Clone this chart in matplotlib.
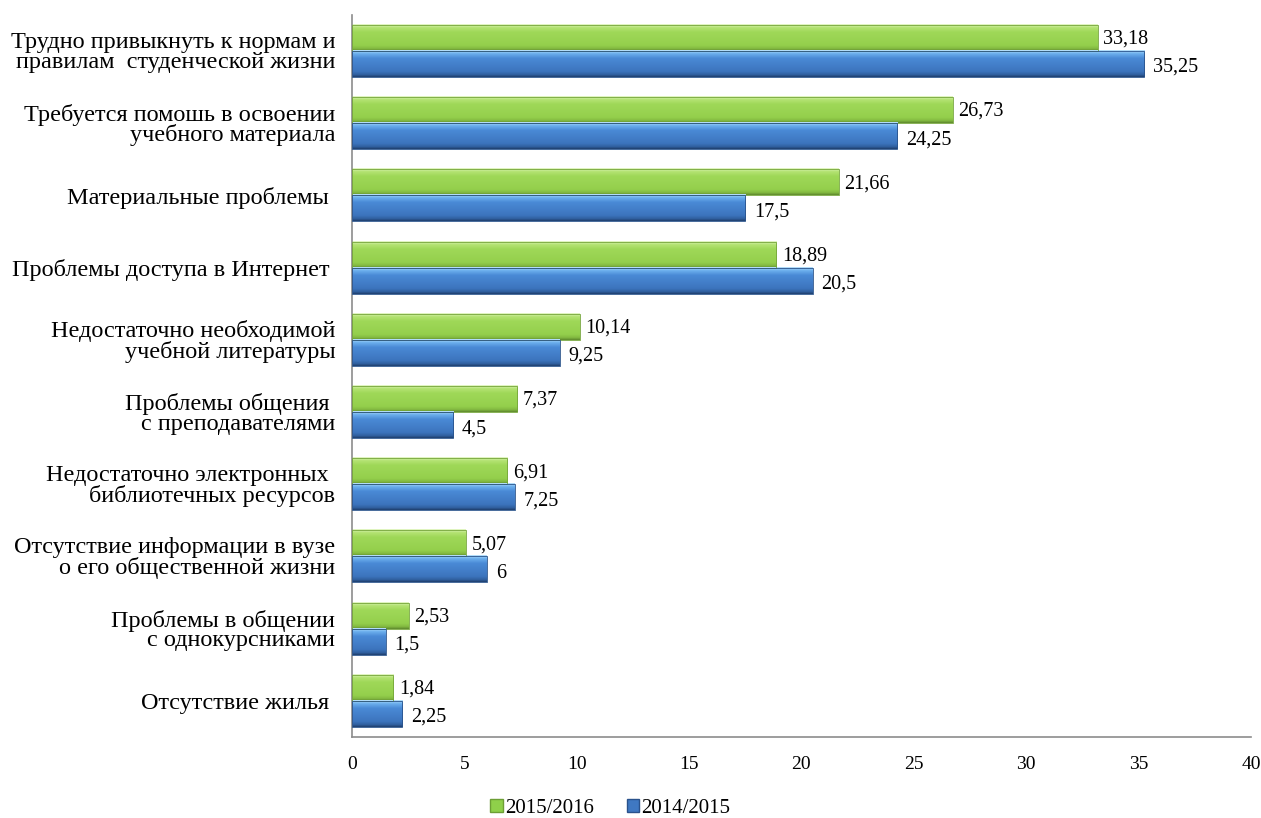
import numpy as np
import matplotlib
matplotlib.use("Agg")
import matplotlib.pyplot as plt
from matplotlib.colors import LinearSegmentedColormap
from matplotlib.patches import Patch

categories = [
    "Трудно привыкнуть к нормам и\nправилам  студенческой жизни",
    "Требуется помошь в освоении\nучебного материала",
    "Материальные проблемы ",
    "Проблемы доступа в Интернет ",
    "Недостаточно необходимой\nучебной литературы",
    "Проблемы общения \nс преподавателями",
    "Недостаточно электронных \nбиблиотечных ресурсов",
    "Отсутствие информации в вузе\nо его общественной жизни",
    "Проблемы в общении\nс однокурсниками",
    "Отсутствие жилья ",
]
vals_1516 = [33.18, 26.73, 21.66, 18.89, 10.14, 7.37, 6.91, 5.07, 2.53, 1.84]
vals_1415 = [35.25, 24.25, 17.5, 20.5, 9.25, 4.5, 7.25, 6, 1.5, 2.25]
series_names = ["2015/2016", "2014/2015"]
xticks = [0, 5, 10, 15, 20, 25, 30, 35, 40]

plt.rcParams["font.family"] = ["Liberation Serif", "DejaVu Serif"]

# vertical gradients (top -> bottom) to mimic the bevelled office-style bars
green_cmap = LinearSegmentedColormap.from_list("g", [
    (0.0, "#e4f7c8"), (0.12, "#b4e373"), (0.3, "#9fd858"),
    (0.8, "#94cf4c"), (0.92, "#82b840"), (1.0, "#5f8a2e")])
blue_cmap = LinearSegmentedColormap.from_list("b", [
    (0.0, "#b9e2fb"), (0.12, "#6cb0ee"), (0.3, "#4a8ad6"),
    (0.8, "#3c74bd"), (0.92, "#30609f"), (1.0, "#1f3f6e")])
grad = np.linspace(0, 1, 64).reshape(-1, 1)

fig = plt.figure(figsize=(12.61, 8.18), dpi=100)
ax = fig.add_axes([0.279, 0.099, 0.713, 0.883])

n = len(categories)
y = np.arange(n)
h = 0.36


def gradient_bars(values, offset, cmap):
    for yi, v in zip(y, values):
        top = yi + offset - h / 2
        ax.imshow(grad, cmap=cmap, aspect="auto", interpolation="bilinear",
                  extent=[0, v, top + h, top], zorder=2)
        ax.barh(yi + offset, v, height=h, facecolor="none",
                edgecolor=cmap(0.95), linewidth=0.6, zorder=3)


gradient_bars(vals_1516, -h / 2, green_cmap)
gradient_bars(vals_1415, h / 2, blue_cmap)

for yi, v in zip(y, vals_1516):
    ax.text(v + 0.25, yi - h / 2 + 0.02, f"{v:g}".replace(".", ","),
            va="center", ha="left", fontsize=14.5)
for yi, v in zip(y, vals_1415):
    ax.text(v + 0.4, yi + h / 2 + 0.05, f"{v:g}".replace(".", ","),
            va="center", ha="left", fontsize=14.5)

ax.set_xlim(0, 40)
ax.set_ylim(n - 0.5, -0.5)
ax.set_xticks(xticks)
ax.set_xticklabels([str(t) for t in xticks], fontsize=14)
ax.set_yticks(y)
ax.set_yticklabels(categories, fontsize=17.5, linespacing=0.92, ha="right")
ax.tick_params(axis="both", length=0)
ax.tick_params(axis="x", pad=14)
ax.tick_params(axis="y", pad=12)
for s in ["top", "right"]:
    ax.spines[s].set_visible(False)
for s in ["left", "bottom"]:
    ax.spines[s].set_color("#8c8c8c")
    ax.spines[s].set_linewidth(1.2)

handles = [Patch(facecolor="#8fd04a", edgecolor="#6c9e35"),
           Patch(facecolor="#3f78c2", edgecolor="#2a528c")]
fig.legend(handles, series_names, loc="center", bbox_to_anchor=(0.484, 0.012),
           ncol=2, frameon=False, fontsize=15, handlelength=0.6,
           handleheight=0.6, handletextpad=0.1, columnspacing=1.6)

fig.savefig("out.png", dpi=100)
